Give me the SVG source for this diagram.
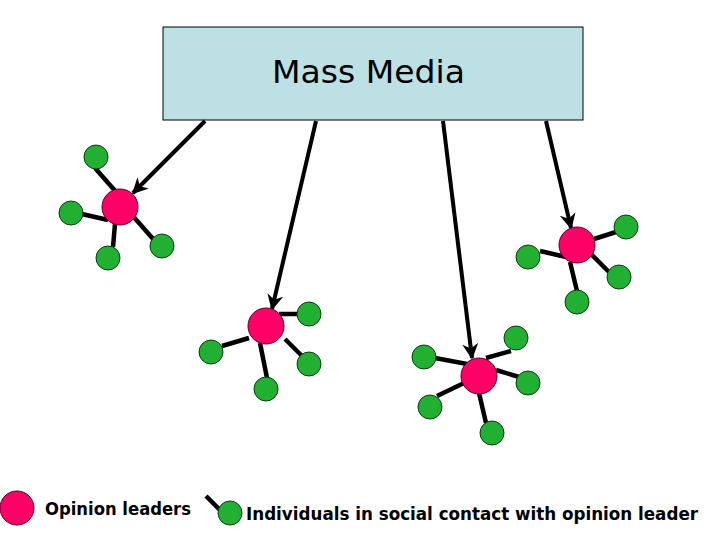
<svg xmlns="http://www.w3.org/2000/svg" width="720" height="540" viewBox="0 0 720 540">
<style>
.leader{fill:#FF0066;stroke:#5a0020;stroke-width:1}
.indiv{fill:#22B033;stroke:#0a3d10;stroke-width:1}
.link{stroke:#000;stroke-width:4.5;stroke-linecap:butt}
.arrow{stroke:#000;stroke-width:4;fill:none}
.lbl{font-family:"Comic Sans MS","DejaVu Sans",sans-serif;fill:#000}
</style>
<defs>
<marker id="ah" viewBox="0 0 10 10" refX="9" refY="5" markerWidth="4" markerHeight="4" orient="auto" markerUnits="strokeWidth">
<path d="M0,0 L10,5 L0,10 L3,5 Z" fill="#000"/>
</marker>
</defs>
<rect width="720" height="540" fill="#fff"/>
<g id="mass-media">
<rect x="163" y="27" width="420" height="93" fill="#BDE0E4" stroke="#000" stroke-width="1"/>
<text class="lbl" x="272" y="83" font-size="32" textLength="193" lengthAdjust="spacingAndGlyphs">Mass Media</text>
</g>
<g id="connectors">
<line class="arrow" x1="205" y1="121" x2="133" y2="193" marker-end="url(#ah)"/>
<line class="arrow" x1="316" y1="121" x2="272" y2="309" marker-end="url(#ah)"/>
<line class="arrow" x1="443" y1="121" x2="472" y2="358" marker-end="url(#ah)"/>
<line class="arrow" x1="546" y1="121" x2="571" y2="228" marker-end="url(#ah)"/>
<line class="link" x1="95" y1="168" x2="117" y2="193"/>
<line class="link" x1="82" y1="214" x2="108" y2="220"/>
<line class="link" x1="115" y1="224" x2="113" y2="247"/>
<line class="link" x1="132" y1="215" x2="154" y2="240"/>
<line class="link" x1="279" y1="314" x2="299" y2="314"/>
<line class="link" x1="222" y1="346" x2="249" y2="338"/>
<line class="link" x1="285" y1="339" x2="304" y2="358"/>
<line class="link" x1="260" y1="343" x2="267" y2="378"/>
<line class="link" x1="435" y1="358" x2="467" y2="364"/>
<line class="link" x1="486" y1="358" x2="511" y2="351"/>
<line class="link" x1="496" y1="370" x2="519" y2="377"/>
<line class="link" x1="437" y1="396" x2="464" y2="383"/>
<line class="link" x1="479" y1="393" x2="486" y2="423"/>
<line class="link" x1="594" y1="239" x2="616" y2="232"/>
<line class="link" x1="540" y1="251" x2="566" y2="257"/>
<line class="link" x1="589" y1="252" x2="609" y2="272"/>
<line class="link" x1="570" y1="262" x2="577" y2="291"/>
<line class="link" x1="206" y1="496" x2="223" y2="513"/>
</g>
<g id="cluster-1">
<circle class="leader" cx="120" cy="207" r="18"/>
<circle class="indiv" cx="96" cy="157" r="12"/>
<circle class="indiv" cx="71" cy="213" r="12"/>
<circle class="indiv" cx="108" cy="258" r="12"/>
<circle class="indiv" cx="162" cy="246" r="12"/>
</g>
<g id="cluster-2">
<circle class="leader" cx="266" cy="326" r="18"/>
<circle class="indiv" cx="309" cy="314" r="12"/>
<circle class="indiv" cx="211" cy="352" r="12"/>
<circle class="indiv" cx="309" cy="364" r="12"/>
<circle class="indiv" cx="266" cy="389" r="12"/>
</g>
<g id="cluster-3">
<circle class="leader" cx="479" cy="376" r="18"/>
<circle class="indiv" cx="424" cy="357" r="12"/>
<circle class="indiv" cx="516" cy="338" r="12"/>
<circle class="indiv" cx="528" cy="383" r="12"/>
<circle class="indiv" cx="430" cy="407" r="12"/>
<circle class="indiv" cx="492" cy="433" r="12"/>
</g>
<g id="cluster-4">
<circle class="leader" cx="577" cy="245" r="18"/>
<circle class="indiv" cx="626" cy="227" r="12"/>
<circle class="indiv" cx="528" cy="257" r="12"/>
<circle class="indiv" cx="619" cy="277" r="12"/>
<circle class="indiv" cx="577" cy="302" r="12"/>
</g>
<g id="legend-leader">
<circle class="leader" cx="17" cy="508" r="17"/>
<text class="lbl" x="45" y="515" font-size="18" font-weight="bold" textLength="146" lengthAdjust="spacingAndGlyphs">Opinion leaders</text>
</g>
<g id="legend-individual">
<circle class="indiv" cx="230" cy="513" r="12"/>
<text class="lbl" x="246" y="520" font-size="17" font-weight="bold" textLength="452" lengthAdjust="spacingAndGlyphs">Individuals in social contact with opinion leader</text>
</g>
</svg>
